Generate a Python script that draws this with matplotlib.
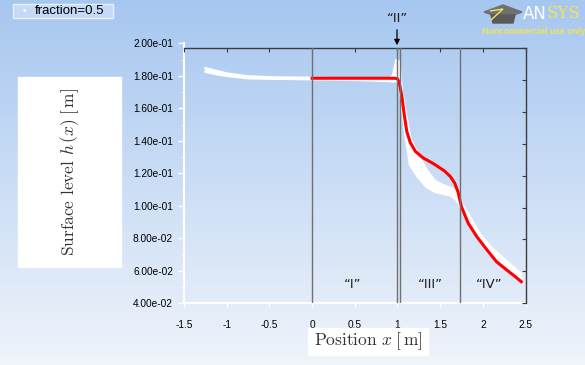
import numpy as np
import matplotlib
matplotlib.use("Agg")
import matplotlib.pyplot as plt
from matplotlib.patches import Rectangle, Polygon
from matplotlib.ticker import MultipleLocator, FormatStrFormatter

plt.rcParams["font.family"] = ["Liberation Sans", "DejaVu Sans"]
plt.rcParams["mathtext.fontset"] = "cm"

# fraction=0.5 free-surface band (Fluent, white markers): lower / upper edge
white_x = [-1.25, -1.13, -1.0, -0.75, -0.45, 0.0, 0.5, 0.9, 0.95, 0.99, 1.02, 1.05,
           1.09, 1.15, 1.24, 1.34, 1.44, 1.54, 1.62, 1.69, 1.75, 1.83, 1.97, 2.10,
           2.24, 2.35, 2.45]
white_hi = [0.1846, 0.1830, 0.1813, 0.1795, 0.1789, 0.1786, 0.1782, 0.1779, 0.1800,
            0.1897, 0.1885, 0.1700, 0.1580, 0.1415, 0.1313, 0.1220, 0.1150, 0.1125,
            0.1110, 0.1090, 0.1012, 0.0945, 0.0820, 0.0740, 0.0675, 0.0625, 0.0578]
white_lo = [0.1826, 0.1812, 0.1801, 0.1786, 0.1783, 0.1780, 0.1776, 0.1769, 0.1766,
            0.1770, 0.1760, 0.1640, 0.1456, 0.1250, 0.1180, 0.1118, 0.1087, 0.1075,
            0.1065, 0.1040, 0.0985, 0.0915, 0.0795, 0.0715, 0.0650, 0.0600, 0.0555]

# analytic / model surface level (red)
red_x = [0.0, 0.97, 1.0, 1.02, 1.05, 1.08, 1.11, 1.15, 1.21, 1.30, 1.42, 1.55, 1.62,
         1.67, 1.71, 1.75, 1.83, 1.93, 2.05, 2.16, 2.28, 2.38, 2.45]
red_y = [0.1785, 0.1785, 0.1782, 0.1760, 0.1680, 0.1560, 0.1456, 0.1390, 0.1335,
         0.1295, 0.1260, 0.1215, 0.1180, 0.1140, 0.1085, 0.0994, 0.0892, 0.0810,
         0.0728, 0.0656, 0.0605, 0.0564, 0.0533]

region_edges = [0.0, 0.99, 1.035, 1.735]
region_names = ["\u201cI\u201d", "\u201cIII\u201d", "\u201cIV\u201d"]
region_label_x = [0.48, 1.38, 2.08]

W, H = 585, 365
fig = plt.figure(figsize=(W / 100, H / 100), dpi=100)

# gradient background
bg = fig.add_axes([0, 0, 1, 1], zorder=-10)
top = np.array([166, 199, 240]) / 255
bot = np.array([240, 244, 251]) / 255
t = np.linspace(0, 1, 256)[:, None]
grad = top[None, None, :] * (1 - t[..., None]) + bot[None, None, :] * t[..., None]
bg.imshow(np.repeat(grad, 4, axis=1), aspect="auto", extent=[0, 1, 0, 1])
bg.set_axis_off()

def px(x0, y0, x1, y1):
    return [x0 / W, 1 - y1 / H, (x1 - x0) / W, (y1 - y0) / H]

# main Fluent axes
ax = fig.add_axes(px(184, 43.3, 525.5, 303.3))
ax.set_facecolor("none")
ax.set_xlim(-1.5, 2.5)
ax.set_ylim(0.04, 0.2)
for s in ["top", "right"]:
    ax.spines[s].set_visible(False)
for s in ["left", "bottom"]:
    ax.spines[s].set_color("white")
    ax.spines[s].set_linewidth(1.5)
ax.xaxis.set_major_locator(MultipleLocator(0.5))
ax.yaxis.set_major_locator(MultipleLocator(0.02))
ax.yaxis.set_minor_locator(MultipleLocator(0.01))
ax.yaxis.set_major_formatter(FormatStrFormatter("%.2e"))
ax.set_xticks(np.arange(-1.5, 2.51, 0.5))
ax.set_xticklabels(["-1.5", "-1", "-0.5", "0", "0.5", "1", "1.5", "2", "2.5"])
ax.tick_params(axis="y", colors="white", labelcolor="black", labelsize=7.3,
               length=4, width=1, pad=4)
ax.tick_params(axis="y", which="minor", colors="white", length=2)
ax.tick_params(axis="x", colors="white", labelcolor="black", labelsize=7.3,
               length=3, width=1, pad=9)

ax.fill_between(white_x, white_lo, white_hi, color="white", lw=0, zorder=2)
ax.plot(white_x, white_hi, color="white", lw=2.0, solid_capstyle="round", zorder=2)
ax.plot(white_x, white_lo, color="white", lw=2.0, solid_capstyle="round", zorder=2)

# overlay frame (second plot)
ov = fig.add_axes(px(184, 48, 525.5, 303.3))
ov.set_facecolor("none")
ov.set_xlim(-1.5, 2.5)
ov.set_ylim(0.04, 0.2)
ov.spines["left"].set_visible(False)
ov.spines["bottom"].set_visible(False)
for s in ["top", "right"]:
    ov.spines[s].set_color("#3c3c3c")
    ov.spines[s].set_linewidth(1.0)
ov.xaxis.set_major_locator(MultipleLocator(0.5))
ov.yaxis.set_major_locator(MultipleLocator(0.02))
ov.tick_params(top=True, bottom=False, left=False, right=True, direction="in",
               labeltop=False, labelbottom=False, labelleft=False, labelright=False,
               length=3, color="#3c3c3c")
for xe in region_edges:
    ov.axvline(xe, color="#707070", lw=1.0, zorder=3)

ax.plot(red_x, red_y, color="#ff0000", lw=2.2, zorder=5)

for name, xl in zip(region_names, region_label_x):
    ax.text(xl, 0.0513, name, ha="center", va="center", fontsize=9.5,
            color="#202020", family="DejaVu Sans")

fig.text(397 / W, 1 - 18 / H, "\u201cII\u201d", ha="center", va="center",
         fontsize=9.5, color="#202020", family="DejaVu Sans")
fig.add_artist(matplotlib.patches.FancyArrowPatch(
    (397 / W, 1 - 27 / H), (397 / W, 1 - 48 / H), transform=fig.transFigure,
    arrowstyle="-|>", mutation_scale=8, color="black", lw=0.9))

# label boxes
fig.add_artist(Rectangle((18 / W, 1 - 267 / H), 103 / W, 190 / H,
                         transform=fig.transFigure, color="white", zorder=1))
fig.text(69.5 / W, 1 - 172 / H, r"Surface level $h\,(x)\;[\,\mathrm{m}]$",
         rotation=90, ha="center", va="center", fontsize=12.5, color="#333333",
         family="cmr10")
fig.add_artist(Rectangle((308 / W, 1 - 355 / H), 120 / W, 27 / H,
                         transform=fig.transFigure, color="white", zorder=1))
fig.text(368 / W, 1 - 341 / H, r"Position $x\;[\,\mathrm{m}]$",
         ha="center", va="center", fontsize=12.5, color="#333333", family="cmr10")

# legend box
fig.add_artist(Rectangle((13 / W, 1 - 18 / H), 100 / W, 14 / H,
                         transform=fig.transFigure, facecolor="#c4daf6",
                         edgecolor="#e8f0fb", lw=1.0))
fig.text(24 / W, 1 - 11 / H, "\u2022", color="white", fontsize=7,
         ha="center", va="center")
fig.text(35 / W, 1 - 11 / H, "fraction=0.5", color="black", fontsize=9.5,
         ha="left", va="center")

# ANSYS mark
fig.add_artist(Polygon([[484 / W, 1 - 12 / H], [503 / W, 1 - 5 / H],
                        [522 / W, 1 - 12 / H], [503 / W, 1 - 19 / H]],
                       closed=True, transform=fig.transFigure, color="#707070"))
fig.add_artist(Polygon([[491 / W, 1 - 15 / H], [515 / W, 1 - 15 / H],
                        [513 / W, 1 - 23 / H], [493 / W, 1 - 23 / H]],
                       closed=True, transform=fig.transFigure, color="#5a5a5a"))
fig.add_artist(Polygon([[490 / W, 1 - 11 / H], [503 / W, 1 - 9 / H],
                        [491 / W, 1 - 20 / H]],
                       closed=False, fill=False, transform=fig.transFigure,
                       edgecolor="#f2e35a", lw=1.0))
fig.text(523 / W, 1 - 14 / H, "AN", color="white", fontsize=12, ha="left",
         va="center", family="DejaVu Sans")
fig.text(547 / W, 1 - 14 / H, "SYS", color="#f2e35a", fontsize=12, ha="left",
         va="center", family="DejaVu Serif")
fig.text(534 / W, 1 - 31 / H, "Noncommercial use only", color="#f2e35a",
         fontsize=6.2, fontweight="bold", ha="center", va="center")

fig.savefig("out.png", dpi=100)
